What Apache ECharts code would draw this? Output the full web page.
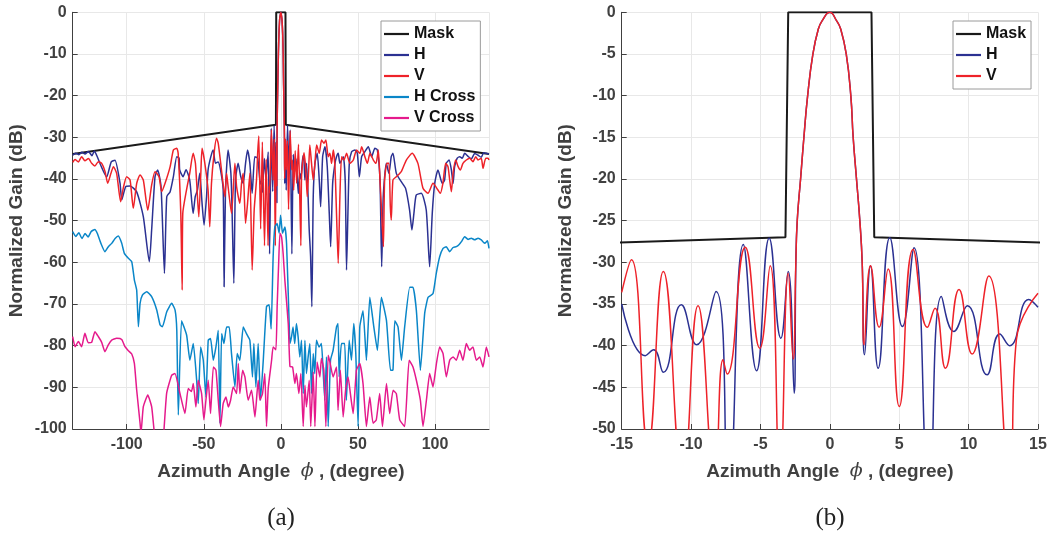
<!DOCTYPE html>
<html>
<head>
<meta charset="utf-8">
<script src="https://cdn.jsdelivr.net/npm/echarts@6/dist/echarts.min.js"></script>
<style>html,body{margin:0;padding:0;background:#fff;}#c{width:1051px;height:533px;}</style>
</head>
<body>
<div id="c"></div>
<script>
// ---------- DATA ----------
const maskData = [[-135,-34],[-3.2,-27],[-3.0,0],[3.0,0],[3.2,-27],[135,-34]];

// main lobe (same for H and V)
const mainLobe = [[-2.45,-30],[-2.35,-25],[-2.11,-20],[-1.87,-15],[-1.6,-10],[-1.22,-5],[-0.83,-2],[-0.55,-1],[0,0],[0.48,-1],[0.78,-2],[1.18,-5],[1.51,-10],[1.68,-15],[1.92,-20],[2.16,-25],[2.33,-30]];

// zoomed region (b), |phi| <= 15
const bHLeft = [[-15,-35.0],[-13.3,-41.2],[-12.7,-40.5],[-12.0,-43.2],[-10.7,-35.1],[-9.6,-39.9],[-8.2,-33.5],[-7.3,-58],[-6.24,-27.85],[-5.28,-43.0],[-4.37,-27.1],[-3.53,-39.1],[-3.0,-31.1],[-2.57,-45.7]];
const bHRight = [[2.5,-41.1],[2.93,-30.45],[3.48,-42.7],[4.32,-27.05],[5.23,-37.7],[6.07,-28.25],[7.15,-58],[8.04,-34.1],[8.93,-38.3],[9.91,-35.2],[11.33,-43.5],[12.24,-38.6],[12.96,-40.0],[14.33,-34.45],[15,-35.4]];
const bVLeft = [[-15,-33.6],[-14.3,-29.7],[-13.1,-52],[-12.0,-31.1],[-10.6,-56],[-9.5,-35.2],[-8.3,-56],[-7.7,-41.7],[-7.4,-43.4],[-6.1,-28.2],[-5.05,-40.3],[-4.3,-30.4],[-3.6,-56],[-3.0,-31.3],[-2.64,-41.6]];
const bVRight = [[2.47,-39.9],[2.93,-30.4],[3.55,-37.8],[4.2,-30.8],[5.0,-47.3],[6.0,-28.45],[7.03,-37.8],[7.58,-35.5],[8.33,-42.7],[9.31,-33.25],[10.25,-41.0],[11.45,-31.65],[12.96,-56],[13.44,-39.3],[15,-33.7]];

// full range (a), outer parts
const aHLeftOuter = [[-135,-34.3],[-133,-33.8],[-131,-34.2],[-129,-33.6],[-127,-34.0],[-124.8,-33.4],[-122.5,-34.4],[-121,-33.3],[-119.5,-34.3],[-116,-37.4],[-113,-39.5],[-110,-35.9],[-107.6,-35.5],[-104.3,-41.0],[-103.2,-45.0],[-100.6,-41.85],[-97.8,-41.7],[-93.5,-43.1],[-89.2,-49.05],[-85.3,-59.85],[-83.8,-52.25],[-81.6,-39.45],[-79.9,-37.85],[-77.7,-41.85],[-75.5,-62.65],[-74,-44.25],[-71.8,-43.05],[-69.7,-39.45],[-67.5,-34.65],[-66,-35],[-65.6,-37.85],[-63.4,-39.45],[-61.5,-37.8],[-59.1,-40.25],[-56.9,-48.25],[-55.5,-44.2],[-54.1,-42.65],[-52.6,-38.65],[-51.1,-45.85],[-49.8,-51.05],[-48.2,-44.25],[-47.2,-37.85],[-45.4,-34.65],[-43.9,-33.05],[-42.4,-36.25],[-40.7,-35.9],[-39.1,-37.85],[-37.4,-42.65],[-36.8,-65.85],[-35.9,-42.65],[-34.2,-33.05],[-32.4,-38.65],[-31.6,-48.25],[-30.5,-65.05],[-29.4,-40.25],[-27.7,-36.25],[-26,-39.45],[-24.4,-41.05],[-22.9,-36.25],[-21.6,-33.05],[-20.1,-36.25],[-18.6,-43.45],[-16.9,-34.65]];
const aHRightOuter = [[15.6,-40.25],[16.7,-36.25],[18.4,-52.25],[19.3,-58.65],[20.1,-70.65],[21,-44.25],[22.1,-36.25],[23.6,-33.85],[24.9,-40.25],[25.8,-46.65],[27.1,-34.65],[28.6,-32.25],[30.1,-37.05],[31.4,-48.25],[32.3,-56.25],[33.6,-41.05],[35.1,-36.25],[36.1,-34.65],[37.2,-33.85],[38.3,-36.25],[40.5,-34.65],[41.8,-41.05],[42.6,-61.85],[43.5,-48.25],[44.4,-36.25],[45.9,-33.45],[48.1,-33.05],[49.6,-33.85],[50.9,-39.45],[52.4,-34.65],[54.5,-33.45],[56.7,-32.25],[58.9,-34.65],[61.0,-32.65],[62.6,-33.05],[64.3,-40.25],[65.4,-61.05],[66.4,-44.25],[68.4,-36.25],[70.1,-38.65],[71.6,-34.65],[72.7,-33.85],[74.9,-38.65],[78.1,-40.65],[80.9,-42.25],[83.5,-47.45],[85,-52.25],[86.3,-48.25],[87.8,-43.85],[91.1,-43.45],[94.3,-47.45],[96.5,-61.05],[98.2,-48.25],[99.8,-41.05],[101.9,-37.85],[104.7,-41.05],[106.2,-40.25],[107.3,-36.25],[109.1,-35.45],[110.6,-37.85],[111.7,-41.05],[112.7,-37.05],[114.3,-35.05],[116,-34.65],[117.7,-35.05],[119.2,-33.85],[121.5,-34.6],[123.5,-35.2],[125.7,-33.9],[127.9,-34.3],[130,-34.8],[131.5,-33.7],[133.3,-33.85],[135,-34.0]];
const aVLeftOuter = [[-135,-36.0],[-133.5,-35.3],[-131.3,-35.9],[-129.2,-34.65],[-127.1,-35.6],[-124.8,-35.1],[-122.7,-36.25],[-120.6,-36.9],[-118.4,-35.85],[-116.2,-36.25],[-114,-38.25],[-112.3,-41.05],[-110.2,-38.65],[-108.6,-37.05],[-106.5,-38.65],[-103.9,-45.45],[-102.2,-42.2],[-100,-39.45],[-97.8,-40.25],[-95.7,-47.05],[-93.5,-41.05],[-91.3,-39.05],[-89.2,-40.25],[-86.3,-47.45],[-83.8,-41.45],[-81.6,-38.25],[-79,-39.45],[-77.3,-43.05],[-75.1,-41.05],[-71.8,-37.05],[-69.7,-33.05],[-67.5,-32.65],[-66.6,-33.85],[-64.9,-48.25],[-64.0,-66.65],[-63.6,-48.25],[-61.2,-42.65],[-59.1,-38.65],[-56.9,-33.85],[-55.4,-36.25],[-54.1,-44.25],[-53.2,-49.05],[-51.9,-38.65],[-51.1,-32.65],[-49.3,-36.25],[-47.2,-42.65],[-46.1,-51.45],[-45,-41.05],[-43.3,-33.85],[-41.7,-30.25],[-40.6,-31.45],[-38.5,-37.85],[-36.3,-44.25],[-35.2,-38.65],[-34.2,-41.85],[-32,-48.25],[-29.8,-36.25],[-28.7,-41.85],[-26.6,-45.85],[-25.5,-41.05],[-24.4,-38.65],[-22.9,-50.65],[-21.6,-45.85],[-20.1,-38.65],[-18.6,-61.85],[-17.3,-47.45],[-15.8,-40.25]];
const aVRightOuter = [[16.2,-37.85],[17.1,-44.25],[18.0,-38],[18.8,-31.85],[19.9,-36.25],[21,-40.25],[22.1,-36.25],[23.2,-31.85],[24.9,-33.85],[26.4,-30.65],[27.9,-31.45],[29.2,-30.65],[30.7,-34.65],[31.8,-33.85],[32.9,-36.25],[34,-33.05],[35.1,-37.05],[36.1,-48.25],[37.2,-60.25],[38.3,-44.25],[39.4,-34.65],[40.9,-35.45],[42.6,-33.85],[44.8,-36.25],[47,-35.45],[49.1,-33.05],[51.3,-33.85],[52.4,-32.25],[54.5,-34.65],[56.1,-36.25],[57.8,-33.85],[60,-35.45],[61.7,-36.25],[63.2,-33.05],[64.3,-40.25],[65.4,-48.25],[66.5,-56.25],[67.3,-40.25],[68.8,-36.25],[70.1,-36.25],[71,-46.65],[71.6,-49.85],[72.7,-40.25],[74.9,-39.45],[78.1,-38.25],[81.4,-35.45],[85.2,-33.85],[88.9,-36.25],[92.2,-42.25],[95.4,-43.45],[98.7,-41.05],[101.9,-42.65],[103.4,-43.45],[105.1,-41.05],[106.9,-36.25],[108.4,-37.05],[109.5,-40.25],[110.6,-43.05],[111.7,-38.65],[113.4,-35.45],[115,-37.05],[116.4,-37.85],[118.1,-36.25],[120.3,-35.45],[122.5,-35.05],[124.6,-35.85],[126.4,-34.65],[127.9,-35.45],[130,-35.05],[131.1,-37.45],[132.9,-35.05],[134.4,-35.05],[135,-35.45]];

const aHCross = [[-135,-52.65],[-133,-53.8],[-131,-52.9],[-129,-54.3],[-127,-53.1],[-125,-53.9],[-123,-52.6],[-120.6,-52.1],[-119,-53.1],[-116.7,-55.45],[-114.1,-57.45],[-112,-56.3],[-109.7,-55.45],[-107.5,-54.3],[-105.4,-53.7],[-103.2,-55.45],[-101.5,-57.85],[-98.9,-59.05],[-96.7,-59.85],[-95,-64.25],[-93.5,-66.65],[-92.4,-75.45],[-91.3,-69.85],[-89.8,-67.85],[-87,-67.05],[-83.8,-68.25],[-80.5,-71.45],[-78.3,-75.05],[-76.8,-75.45],[-74,-71.85],[-70.8,-69.85],[-68.6,-71.45],[-67.5,-76.25],[-66.5,-96.65],[-64.4,-74],[-61.1,-77.5],[-59,-83.5],[-56.8,-79.5],[-54.6,-88.3],[-53.6,-93.9],[-52,-80.3],[-50.3,-83.5],[-48.6,-92.3],[-47.1,-78.7],[-45.6,-78.3],[-43.8,-83.5],[-42.1,-80.3],[-40.6,-76.3],[-39.5,-98.6],[-38.4,-77.1],[-36.9,-79.5],[-35.2,-75.5],[-33.5,-75.5],[-32,-81.9],[-29.8,-89.9],[-28.3,-81.9],[-26.6,-83.5],[-24.4,-75.5],[-22.3,-77.1],[-20.1,-78.7],[-18.4,-87.5],[-17.5,-79.5],[-16.2,-89.9],[-14.7,-79.5],[-13.2,-93.1],[-11.4,-83.5],[-9.3,-70.6],[-7.6,-70.2],[-6.3,-76],[-5,-58.7],[-3.9,-51.5],[-2.4,-50.7],[-1.1,-53],[-0.2,-48.7],[1.1,-53],[2.6,-51.5],[3.7,-55.5],[5.4,-74.7],[5.9,-79.5],[6.9,-77.9],[7.9,-75.5],[9.0,-79.5],[10.1,-74.7],[11.2,-77.9],[12.3,-82.7],[13.4,-78.7],[14.5,-91.5],[15.6,-78.7],[16.6,-86.7],[17.7,-82.7],[18.8,-79.5],[19.9,-91.5],[21,-81.9],[22,-86.7],[23.1,-78.7],[24.8,-80.3],[26.3,-79.5],[27.4,-85.9],[28.5,-93.1],[29.6,-82.7],[30.7,-99.4],[32.2,-83.5],[33.9,-81.1],[36.1,-75.5],[37.1,-74.7],[37.8,-87.5],[39.3,-79.5],[41.4,-79.5],[42.5,-93.1],[44.3,-78.7],[45.8,-83.5],[47.3,-74.7],[48.6,-81.9],[50.1,-99.4],[51.2,-75.5],[53.3,-71.6],[55.5,-83.5],[57.7,-68.4],[60.3,-75.5],[62.6,-81.1],[65.2,-68.4],[68.5,-74],[71.1,-85.9],[72.7,-85.85],[73.9,-74],[76,-75.5],[78.2,-83.5],[80.3,-75.5],[83.6,-66],[85.7,-66],[87.9,-71.6],[90.5,-85.9],[93.3,-72.2],[95.5,-68.4],[98.7,-67.5],[100.8,-62.65],[103,-58.65],[105.2,-56.65],[107.3,-56.25],[109.5,-57.45],[111.5,-56.5],[113.8,-56.25],[115.5,-55.8],[117.1,-55.05],[119.2,-53.85],[121.4,-54.5],[123.5,-54.2],[125.7,-54.6],[127.9,-54.2],[130,-54.6],[132.2,-55.45],[134,-54.8],[135,-56.65]];

const aVCross = [[-135,-77.85],[-133.5,-80.25],[-131.3,-79],[-129.2,-80.25],[-127.1,-77.05],[-124.9,-79.3],[-122.7,-79.2],[-120.6,-76.65],[-118.4,-77.8],[-116.2,-79.2],[-114.1,-81.45],[-111.9,-79.8],[-109.7,-78.65],[-106.5,-78.25],[-103.2,-78.5],[-101.1,-80.25],[-98.9,-81.2],[-96.7,-82.0],[-95,-84.25],[-93.5,-90.65],[-91.3,-98.65],[-90.7,-101],[-89.2,-94.65],[-86.3,-91.85],[-83.8,-94.65],[-82,-101],[-78,-110],[-74.1,-91.5],[-70.8,-87.1],[-68.7,-86.7],[-65.4,-91.5],[-62.2,-96.3],[-60.1,-90.3],[-58,-91],[-56.8,-89.1],[-55.1,-94.7],[-53.6,-88.3],[-51.4,-91.5],[-49.9,-97.8],[-48.6,-93.1],[-47.1,-88.3],[-45.6,-96.3],[-43.8,-85.1],[-42.1,-85.9],[-40.6,-93.1],[-39.1,-99.4],[-37.4,-93.9],[-35.6,-92.3],[-34.1,-94.7],[-32.6,-93.1],[-30.9,-89.9],[-28.7,-91.5],[-27.6,-84.3],[-26.6,-91.5],[-24.8,-85.9],[-23.3,-87.5],[-21.2,-93.1],[-19,-90.7],[-16.8,-97.1],[-14.7,-88.3],[-13.6,-93.1],[-11.9,-91.5],[-10.4,-86.7],[-9.3,-99.4],[-8.2,-90.3],[-6,-83.5],[-5,-80.3],[-3.2,-81],[-2.4,-70.6],[-1.4,-60],[-0.6,-53],[0.45,-53.9],[1.5,-58],[2.6,-64.3],[4.8,-74.7],[5.9,-85],[7.6,-85.1],[9.1,-89.1],[10.1,-86.7],[11.7,-91.5],[13,-86.7],[14.5,-99.4],[15.6,-89.5],[16.6,-94.7],[18.4,-88.3],[19.4,-99.4],[21,-86.3],[22.1,-99.4],[23.5,-83.9],[25.3,-87.5],[26.3,-83.1],[27.9,-85.9],[29.2,-99.4],[30.7,-82.3],[31.8,-83.9],[33.9,-87.5],[36.1,-85.1],[37.1,-95.5],[38.6,-85.9],[40.4,-97.1],[42.1,-90.3],[43.6,-87.5],[45.1,-91.5],[46.9,-96.3],[49,-85.9],[51.2,-84.3],[53.3,-89.1],[55.5,-99.4],[57.7,-92.3],[59.8,-98.6],[61.9,-97.8],[64.1,-91.5],[65.9,-99.4],[68.5,-89.1],[70.6,-96.3],[72.8,-90.7],[74.9,-91.5],[77.1,-97.8],[80.3,-99.4],[83.2,-83.5],[85.7,-85.1],[87.9,-88.3],[90.5,-93.1],[92.2,-99.4],[94.4,-93.1],[96.5,-86.7],[97.6,-88.3],[98.7,-89.9],[100.9,-84.3],[103,-80.3],[105.2,-81.9],[107.3,-87.5],[109.5,-83.5],[111.7,-82.7],[113.8,-83.5],[116,-81.1],[118.1,-83.5],[120.3,-79.5],[122.5,-81.1],[124.6,-80.3],[126.8,-83.5],[129,-82.7],[131.1,-85.1],[133.3,-80.3],[135,-82.7]];

const legendA = ['Mask','H','V','H Cross','V Cross'];
const legendB = ['Mask','H','V'];

// ---------- BUILD ----------
const bH = bHLeft.concat(mainLobe, bHRight);
const bV = bVLeft.concat(mainLobe, bVRight);
const aH = aHLeftOuter.concat(bH, aHRightOuter);
const aV = aVLeftOuter.concat(bV, aVRightOuter);

const C = {mask:'#1a1a1a', H:'#2b3192', V:'#ee2229', HC:'#0a86c8', VC:'#e51a8c'};
const TXT = '#404040';
const FONT = '"Liberation Sans", Arial, Helvetica, sans-serif';

function xAxisCfg(idx, min, max, interval){
  const o = {
    gridIndex: idx, type:'value', min:min, max:max,
    axisLine:{show:true, onZero:false, lineStyle:{color:TXT, width:1}},
    axisTick:{show:true, inside:true, length:5, lineStyle:{color:TXT}},
    axisLabel:{color:TXT, fontWeight:'bold', fontSize:16, fontFamily:FONT, margin:8, showMinLabel: interval?true:false, showMaxLabel: interval?true:false},
    splitLine:{show:true, lineStyle:{color:'#e8e8e8', width:1}},
    name:'Azimuth Angle  {phi|\u03D5} , (degree)', nameLocation:'middle', nameGap:33,
    nameTextStyle:{color:TXT, fontWeight:'bold', fontSize:19, fontFamily:FONT,
      rich:{phi:{fontFamily:'"DejaVu Serif", serif', fontStyle:'italic', fontWeight:'normal', fontSize:19, color:TXT}}}
  };
  if (interval) o.interval = interval; else o.splitNumber = 5;
  return o;
}
function yAxisCfg(idx, min, max, interval){
  return {
    gridIndex: idx, type:'value', min:min, max:max, interval:interval,
    axisLine:{show:true, onZero:false, lineStyle:{color:TXT, width:1}},
    axisTick:{show:true, inside:true, length:5, lineStyle:{color:TXT}},
    axisLabel:{color:TXT, fontWeight:'bold', fontSize:16, fontFamily:FONT, margin:6},
    splitLine:{show:true, lineStyle:{color:'#e8e8e8', width:1}},
    name:'Normalized Gain (dB)', nameLocation:'middle', nameGap:46, nameRotate:90,
    nameTextStyle:{color:TXT, fontWeight:'bold', fontSize:19, fontFamily:FONT}
  };
}
function ser(name, data, color, idx, width, smooth){
  return {name:name, type:'line', xAxisIndex:idx, yAxisIndex:idx, data:data, symbol:'none',
    smooth: smooth||false, clip:true, lineStyle:{color:color, width:width}, itemStyle:{color:color},
    animation:false, silent:true};
}
function legendCfg(data, left){
  return {data:data, orient:'vertical', left:left, top:21, icon:'rect', itemWidth:25, itemHeight:2.2, itemGap:5,
    padding:[5,5,5,3], backgroundColor:'#fff', borderColor:'#9a9a9a', borderWidth:1,
    selectedMode:false,
    textStyle:{color:'#111', fontWeight:'bold', fontSize:16, fontFamily:FONT, lineHeight:16}};
}

const option = {
  backgroundColor:'#fff',
  animation:false,
  grid:[
    {left:72.7, top:12.3, width:416.3, height:416.7},
    {left:621.7, top:12.3, width:416.3, height:416.7}
  ],
  xAxis:[xAxisCfg(0,-135,135,null), xAxisCfg(1,-15,15,5)],
  yAxis:[yAxisCfg(0,-100,0,10), yAxisCfg(1,-50,0,5)],
  legend:[legendCfg(legendA,381), legendCfg(legendB,953)],
  series:[
    ser('Mask', maskData, C.mask, 0, 2),
    ser('H', aH, C.H, 0, 1.5, 0.2),
    ser('V', aV, C.V, 0, 1.5, 0.2),
    ser('H Cross', aHCross, C.HC, 0, 1.5, 0.15),
    ser('V Cross', aVCross, C.VC, 0, 1.5, 0.15),
    ser('Mask', maskData, C.mask, 1, 2),
    ser('H', bH, C.H, 1, 1.5, 0.5),
    ser('V', bV, C.V, 1, 1.5, 0.5)
  ],
  graphic:[
    {type:'text', style:{text:'(a)', x:281, y:518, textAlign:'center', textVerticalAlign:'middle', font:'25px "Liberation Serif", "Times New Roman", serif', fill:'#222'}},
    {type:'text', style:{text:'(b)', x:830, y:518, textAlign:'center', textVerticalAlign:'middle', font:'25px "Liberation Serif", "Times New Roman", serif', fill:'#222'}}
  ]
};
const chart = echarts.init(document.getElementById('c'), null, {renderer:'canvas'});
chart.setOption(option);
</script>
</body>
</html>
